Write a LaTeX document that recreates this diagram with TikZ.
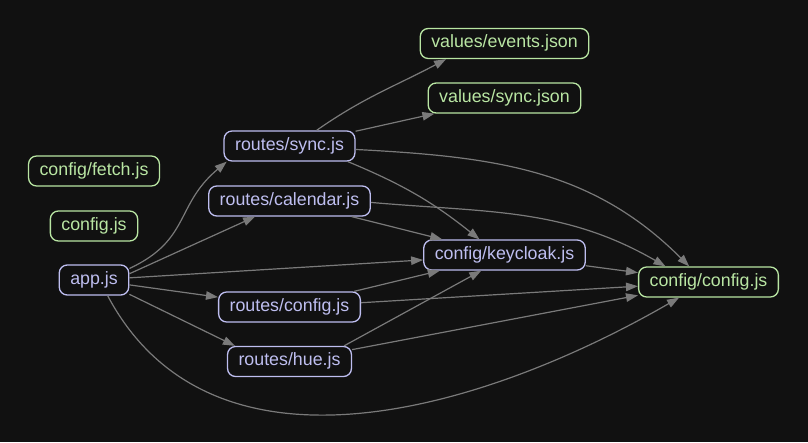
\documentclass[tikz,border=0pt]{standalone}
\usepackage{fontspec}
\setmainfont{Liberation Sans}
\usetikzlibrary{arrows.meta}
\definecolor{bgdark}{HTML}{111111}
\definecolor{jsnode}{HTML}{BEBEF0}
\definecolor{datanode}{HTML}{B9E6A3}
\definecolor{edgegray}{HTML}{7A7A7A}
\tikzset{
  module/.style = {draw=jsnode, text=jsnode, line width=1.3pt, rounded corners=8pt,
    minimum height=30pt, inner xsep=11pt, text height=12.5pt, text depth=4pt,
    font=\fontsize{17.8}{20}\selectfont},
  leaf/.style = {module, draw=datanode, text=datanode},
  dep/.style = {draw=edgegray, line width=1.2pt, -{Triangle[length=12pt, width=8.5pt]}},
}

\begin{document}
\begin{tikzpicture}[x=1pt, y=1pt]
        \path [use as bounding box, fill=bgdark] (0,0) rectangle (808,442);
        % modules, one column per level
        \foreach \N/\x/\y/\s/\t in {
          cfetch/94/271/leaf/{config/fetch.js},
          cfg/94/216/leaf/{config.js},
          app/94/162/module/{app.js},
          rsync/289.5/296/module/{routes/sync.js},
          rcal/289.5/241/module/{routes/calendar.js},
          rconfig/289.5/135/module/{routes/config.js},
          rhue/289.5/80.5/module/{routes/hue.js},
          vevents/504.5/398.5/leaf/{values/events.json},
          vsync/504.5/344/leaf/{values/sync.json},
          keycloak/504.5/187/module/{config/keycloak.js},
          config/708.5/160/leaf/{config/config.js}%
        }{
          \node (\N) [\s] at (\x,\y) {\t};
        }

        % straight imports
        \foreach \a/\b in {
          app.10/rcal, app/keycloak, app/rconfig, app.-22/rhue.164,
          rsync/vsync, rcal/keycloak, keycloak/config,
          rconfig/keycloak, rconfig/config, rhue.16/keycloak.214, rhue/config%
        }{
          \draw [dep] (\a) -- (\b);
        }

        % curved imports
        \draw [dep] (app.18) to[out=25, in=-140, looseness=1.2] (rsync.194);
        \draw [dep] (app.-49) to[out=-62, in=210] (config.208);
        \draw [dep] (rsync.30) to[out=35, in=208] (vevents.195);
        \draw [dep] (rsync.-15) to[bend left=8] (keycloak.148);
        \draw [dep] (rsync.-3.5) to[out=-3, in=135] (config.141);
        \draw [dep] (rcal.-1.5) to[out=-5, in=150] (config.160);
      \end{tikzpicture}
\end{document}
